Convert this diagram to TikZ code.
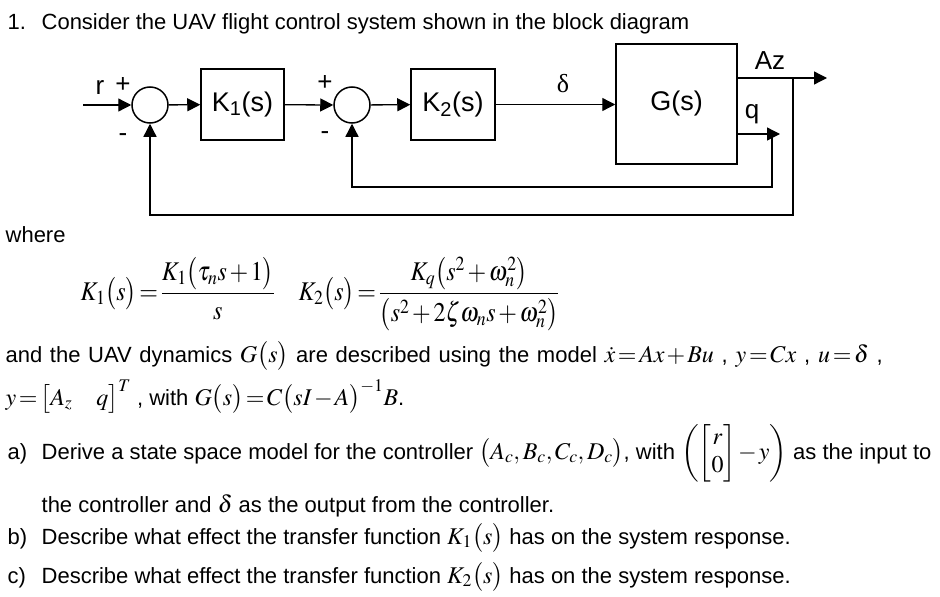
\documentclass[tikz,border=0pt]{standalone}
\usepackage{amsmath}
\usepackage{graphicx}
\usepackage{mathptmx}
\usepackage[no-math]{fontspec}
\setmainfont{Liberation Sans}
\newfontfamily\symfont{Liberation Serif}
\usetikzlibrary{arrows.meta}
\newcommand{\mth}[1]{{\fontsize{24}{28}\selectfont$\thickmuskip=2mu\medmuskip=1.5mu#1$}}

\begin{document}
\begin{tikzpicture}[x=1pt,y=-1pt,>={Triangle[length=13pt,width=13pt]},line width=1.3pt,
  block/.style={draw,line width=1.5pt,inner sep=0pt,font=\fontsize{27}{30}\selectfont},
  sumnode/.style={draw,circle,line width=1.5pt,inner sep=0pt,minimum size=36pt},
  sign/.style={inner sep=0pt,font=\fontsize{26}{30}\selectfont},
  txt/.style={anchor=base west,inner sep=0pt,font=\fontsize{22}{26}\selectfont},
  frm/.style={anchor=base west,inner sep=0pt,font=\fontsize{27}{31}\selectfont}]
\useasboundingbox (0,0) rectangle (940,597);

\node[txt] (qnum) at (7,29) {1.};
\node[txt] (qhead) at (41,29) {Consider the UAV flight control system shown in the block diagram};

\coordinate (rin) at (83,105);
\node[sumnode] (sumA) at (150,105) {};
\node[block,minimum width=83pt,minimum height=71pt] (kone) at (242.5,104.5) {K\textsubscript{1}(s)};
\node[sumnode] (sumB) at (352,105) {};
\node[block,minimum width=84pt,minimum height=71pt] (ktwo) at (453,104.5) {K\textsubscript{2}(s)};
\node[block,minimum width=121pt,minimum height=120pt] (plant) at (676.5,104) {G(s)};
\coordinate (azout) at (plant.east |- 0,78);
\coordinate (azend) at (827,78);
\coordinate (azsplit) at (793,78);
\coordinate (qout) at (plant.east |- 0,134);
\coordinate (qend) at (780,134);
\coordinate (qsplit) at (772,134);

\node[sign] (rlbl) at (100,88) {r};
\node[sign] (plusA) at (123,85) {+};
\node[sign] (minusA) at (123,138) {-};
\node[sign] (plusB) at (325,83) {+};
\node[sign] (minusB) at (325,136) {-};
\node[sign] (dlbl) at (563,84) {\symfont δ};
\node[sign] (azlbl) at (770,61) {Az};
\node[sign] (qlbl) at (752,114) {q};

\draw[->] (rin) -- (sumA.west);
\draw[->] (sumA) -- (kone);
\draw[->] (kone) -- (sumB.west);
\draw[->] (sumB) -- (ktwo);
\draw[->] (ktwo.east) -- (ktwo.east -| plant.west);
\draw[->] (azout) -- (azend);
\draw[->] (qout) -- (qend);
\draw[->] (azsplit) |- (0,215 -| sumA) -- (sumA.south);
\draw[->] (qsplit) |- (0,187 -| sumB) -- (sumB.south);

\node[txt] (where) at (5,242) {where};
\node[frm] (fone) at (80,300) {\scalebox{0.89}[1]{$\thickmuskip=2mu\medmuskip=2mu\displaystyle K_1\bigl(s\bigr)=\frac{K_1\bigl(\tau_n s+1\bigr)}{\rule{0pt}{22pt}s}$}};
\node[frm] (ftwo) at (298,300) {\scalebox{0.89}[1]{$\thickmuskip=2mu\medmuskip=2mu\displaystyle K_2\bigl(s\bigr)=\frac{K_q\bigl(s^2+\omega_n^2\bigr)}{\rule{0pt}{24pt}\bigl(s^2+2\zeta\omega_n s+\omega_n^2\bigr)}$}};

\node[txt] (dyn) at (5,362) {\makebox[877pt][s]{and the UAV dynamics \mth{G\bigl(s\bigr)} are described using the model \mth{\dot x=Ax+Bu} , \mth{y=Cx} , \mth{u=\delta} ,}};
\node[txt] (dyntwo) at (5,405) {\mth{y=\bigl[A_z\quad q\bigr]^T} , with \mth{G\bigl(s\bigr)=C\bigl(sI-A\bigr)^{-1}B}.};

\node[txt] (pa) at (7,459) {a)};
\node[txt] (pat) at (41,459) {Derive a state space model for the controller \mth{\bigl(A_c,B_c,C_c,D_c\bigr)}, with \mth{\left(\begin{bmatrix} r\\ 0\end{bmatrix}-y\right)} as the input to};
\node[txt] (patwo) at (41,512) {the controller and \mth{\delta} as the output from the controller.};
\node[txt] (pb) at (7,544) {b)};
\node[txt] (pbt) at (41,544) {Describe what effect the transfer function \mth{K_1\bigl(s\bigr)} has on the system response.};
\node[txt] (pc) at (7,583) {c)};
\node[txt] (pct) at (41,583) {Describe what effect the transfer function \mth{K_2\bigl(s\bigr)} has on the system response.};
\end{tikzpicture}
\end{document}
